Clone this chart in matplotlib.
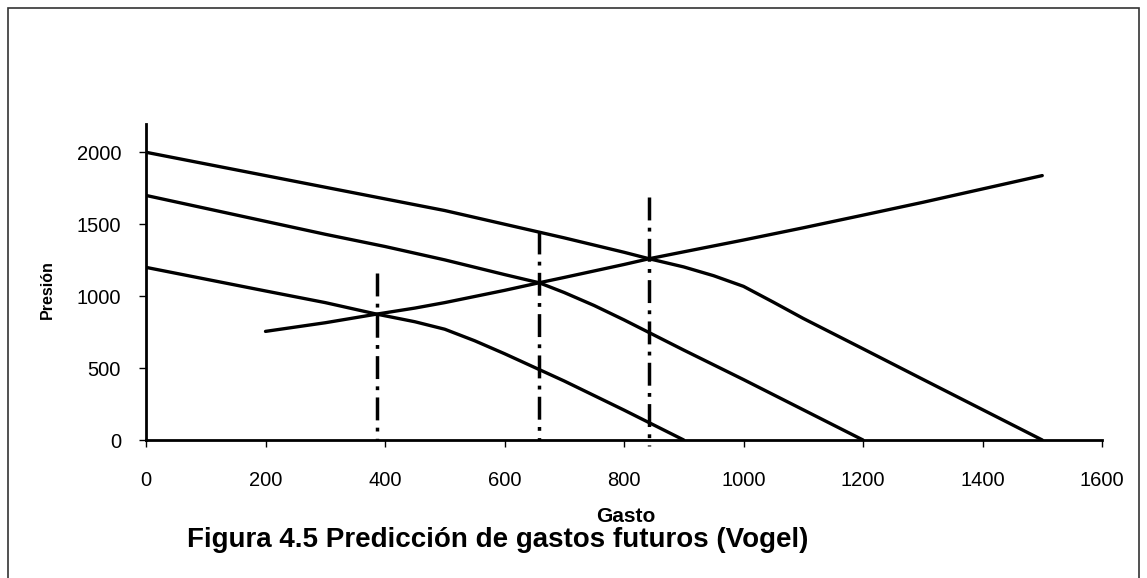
import matplotlib
matplotlib.use('Agg')
import matplotlib.pyplot as plt
from matplotlib.patches import Rectangle

plt.rcParams['font.family'] = ['Liberation Sans', 'DejaVu Sans']

# --- Data (Gasto vs Presión) ---
q_top = [0, 100, 200, 300, 400, 500, 600, 700, 800, 842, 900, 950, 1000,
         1050, 1100, 1200, 1300, 1400, 1500]
p_top = [2000, 1919, 1838, 1757, 1676, 1595, 1500, 1405, 1305, 1260, 1203,
         1142, 1068, 958, 845, 634, 422, 211, 0]

q_mid = [0, 100, 200, 300, 400, 500, 600, 658, 700, 750, 800, 900, 1000,
         1100, 1200]
p_mid = [1700, 1610, 1520, 1430, 1345, 1252, 1150, 1093, 1025, 935, 835,
         625, 420, 210, 0]

q_bot = [0, 100, 200, 300, 386, 450, 500, 550, 600, 650, 700, 800, 900]
p_bot = [1200, 1118, 1036, 955, 875, 822, 770, 690, 600, 505, 410, 208, 0]

q_out = [200, 300, 386, 450, 500, 600, 658, 700, 800, 842, 900, 1000,
         1100, 1200, 1300, 1400, 1500]
p_out = [755, 815, 875, 917, 955, 1040, 1093, 1130, 1220, 1260, 1308,
         1390, 1475, 1563, 1652, 1745, 1838]

vline_q = [386, 658, 842]
vline_top = [1160, 1450, 1690]
vline_bottom = [0, 0, -45]

x_ticks = [0, 200, 400, 600, 800, 1000, 1200, 1400, 1600]
y_ticks = [0, 500, 1000, 1500, 2000]

W, H = 1147, 578
fig = plt.figure(figsize=(W / 100, H / 100), dpi=100)
ax = fig.add_axes([146 / W, 138 / H, 956 / W, 316.5 / H])

for q, p in [(q_top, p_top), (q_mid, p_mid), (q_bot, p_bot), (q_out, p_out)]:
    ax.plot(q, p, color='black', linewidth=2.4, solid_joinstyle='round',
            solid_capstyle='round')

for q, top, bot in zip(vline_q, vline_top, vline_bottom):
    ax.plot([q, q], [top, bot], color='black', linewidth=2.5,
            linestyle=(0, (6.6, 2.1, 1.1, 2.1)), clip_on=False)

ax.set_xlim(0, 1600)
ax.set_ylim(0, 2200)
ax.set_xticks(x_ticks)
ax.set_yticks(y_ticks)
for s in ['top', 'right']:
    ax.spines[s].set_visible(False)
for s in ['left', 'bottom']:
    ax.spines[s].set_linewidth(2.0)
ax.tick_params(axis='both', direction='out', length=5, width=1.0,
               labelsize=14.5, colors='black')
ax.tick_params(axis='y', pad=13)
ax.tick_params(axis='x', pad=17)

fig.text(47 / W, 1 - 290 / H, 'Presión', rotation=90, ha='center',
         va='center', fontsize=11.5, fontweight='bold')
fig.text(626 / W, 1 - 521.7 / H, 'Gasto', ha='center', va='baseline',
         fontsize=15, fontweight='bold')
fig.text(187 / W, 1 - 547 / H, 'Figura 4.5 Predicción de gastos futuros (Vogel)',
         ha='left', va='baseline', fontsize=20, fontweight='bold')

fig.patches.append(Rectangle((8 / W, -0.1), (1139 - 8) / W, 1.1 - 8 / H,
                             transform=fig.transFigure, fill=False,
                             edgecolor='#333333', linewidth=1.2))

fig.savefig('out.png', dpi=100)
